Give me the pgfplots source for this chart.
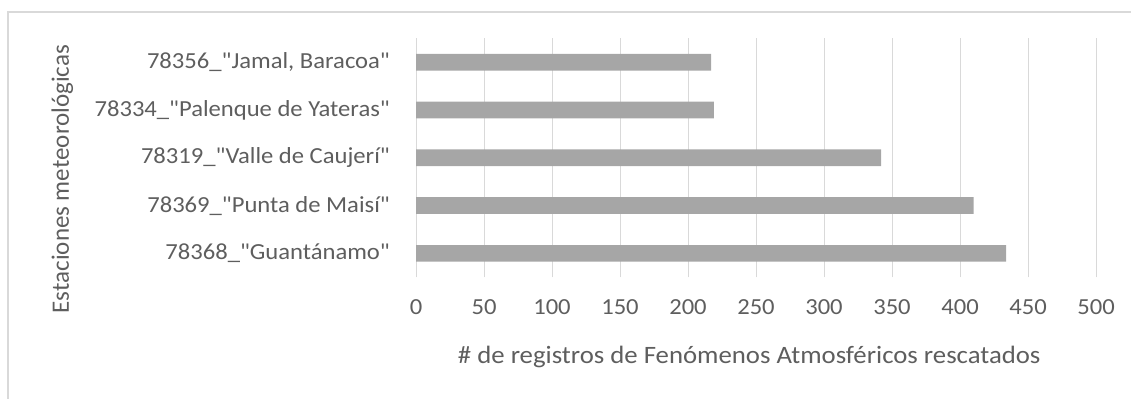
\documentclass[border=0pt]{standalone}
\usepackage{pgfplots}
\pgfplotsset{compat=1.18}
\usepackage{fontspec}
\setmainfont{Carlito}[Ligatures=TeXOff]
\newfontfamily\hfont{Carlito}[FakeStretch=1.07, Ligatures=TeXOff]
\definecolor{txt}{HTML}{5E5E5E}
\definecolor{barc}{HTML}{A6A6A6}
\definecolor{gridc}{HTML}{D9D9D9}
\begin{document}
\begin{tikzpicture}
\path[use as bounding box] (0,0) rectangle (1131bp,399bp);
\draw[gridc, line width=1.2bp] (8bp,0) -- (8bp,387bp) -- (1131bp,387bp);
\begin{axis}[
  at={(416bp,121.7bp)}, anchor=south west,
  scale only axis, width=680bp, height=239bp,
  xmin=0, xmax=500, ymin=-0.5, ymax=4.5,
  xtick={0,50,...,500},
  ytick={0,1,2,3,4},
  yticklabels={{78368\_"Guantánamo"},{78369\_"Punta de Maisí"},{78319\_"Valle de Caujerí"},{78334\_"Palenque de Yateras"},{78356\_"Jamal, Baracoa"}},
  /pgf/number format/assume math mode=true,
  axis line style={draw=none},
  major tick length=0pt,
  xmajorgrids, ymajorgrids=false,
  grid style={gridc, line width=1bp},
  ticklabel style={font=\hfont\fontsize{23bp}{27bp}\selectfont, text=txt},
  xticklabel style={anchor=center, inner sep=0pt, yshift=-30bp},
  yticklabel style={anchor=east, inner sep=0pt, xshift=-26bp},
  xlabel={\# de registros de Fenómenos Atmosféricos rescatados},
  ylabel={Estaciones meteorológicas},
  xlabel style={font=\hfont\fontsize{25bp}{29bp}\selectfont, text=txt, at={(axis description cs:0.49,-0.333)}, anchor=center},
  ylabel style={font=\fontsize{25bp}{29bp}\selectfont, text=txt, at={(axis description cs:-0.52,0.411)}, anchor=center},
  xbar, bar width=16.7bp,
]
\addplot[fill=barc, draw=none] coordinates {(434,0) (410,1) (342,2) (219,3) (217,4)};
\end{axis}
\end{tikzpicture}
\end{document}
